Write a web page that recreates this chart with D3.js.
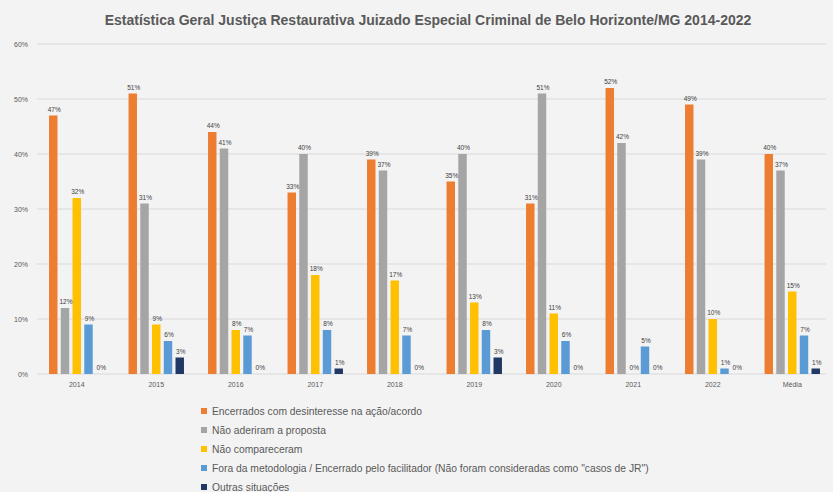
<!DOCTYPE html>
<html>
<head>
<meta charset="utf-8">
<script src="https://cdn.jsdelivr.net/npm/d3@7"></script>
<style>
  body { margin: 0; background: #f3f3f3; }
  svg { display: block; font-family: "Liberation Sans", Arial, sans-serif; }
</style>
</head>
<body>
<div id="chart"></div>
<script>
// chart data
var categories = ["2014", "2015", "2016", "2017", "2018", "2019", "2020", "2021", "2022", "Média"];
var seriesNames = [
  "Encerrados com desinteresse na ação/acordo",
  "Não aderiram a proposta",
  "Não compareceram",
  "Fora da metodologia / Encerrado pelo facilitador (Não foram consideradas como \"casos de JR\")",
  "Outras situações"
];
var encerrados   = [47, 51, 44, 33, 39, 35, 31, 52, 49, 40];
var naoAderiram  = [12, 31, 41, 40, 37, 40, 51, 42, 39, 37];
var naoCompar    = [32, 9, 8, 18, 17, 13, 11, 0, 10, 15];
var foraMetod    = [9, 6, 7, 8, 7, 8, 6, 5, 1, 7];
var outras       = [0, 3, 0, 1, 0, 3, 0, 0, 0, 1];
var yTicks = [0, 10, 20, 30, 40, 50, 60];
var colors = ["#ed7d31", "#a5a5a5", "#ffc000", "#5b9bd5", "#1f3864"];
var title = "Estatística Geral Justiça Restaurativa Juizado Especial Criminal de Belo Horizonte/MG 2014-2022";

var allSeries = [encerrados, naoAderiram, naoCompar, foraMetod, outras];

var svgWidth = 833;
var svgHeight = 492;

var svg = d3.select("#chart")
  .append("svg")
  .attr("width", svgWidth)
  .attr("height", svgHeight);

svg.append("rect")
  .attr("width", svgWidth)
  .attr("height", svgHeight)
  .attr("fill", "#f3f3f3");

// scales
var x0 = d3.scaleBand()
  .domain(categories)
  .range([37, 832])
  .paddingInner(0.22)
  .paddingOuter(0.11);

var x1 = d3.scaleBand()
  .domain(d3.range(seriesNames.length))
  .range([0, x0.bandwidth()])
  .padding(0.28);

var y = d3.scaleLinear()
  .domain([0, 60])
  .range([374, 44]);

// gridlines
svg.append("g")
  .selectAll("line")
  .data(yTicks)
  .enter()
  .append("line")
  .attr("x1", 37)
  .attr("x2", 826)
  .attr("y1", d => y(d))
  .attr("y2", d => y(d))
  .attr("stroke", "#d9d9d9")
  .attr("stroke-width", 1);

// y axis labels
var leftAxis = d3.axisLeft(y).tickValues(yTicks).tickFormat(d => d + "%").tickSize(0).tickPadding(9);
var yAxisG = svg.append("g")
  .attr("transform", "translate(37,0)")
  .call(leftAxis);
yAxisG.select(".domain").remove();
yAxisG.selectAll("text")
  .attr("font-size", 7)
  .attr("fill", "#595959")
  .attr("font-family", "Liberation Sans, Arial, sans-serif");

// x axis labels
var bottomAxis = d3.axisBottom(x0).tickSize(0).tickPadding(8);
var xAxisG = svg.append("g")
  .attr("transform", "translate(0,374)")
  .call(bottomAxis);
xAxisG.select(".domain").remove();
xAxisG.selectAll("text")
  .attr("font-size", 7)
  .attr("fill", "#595959")
  .attr("font-family", "Liberation Sans, Arial, sans-serif");

// bars
var groups = svg.append("g")
  .selectAll("g")
  .data(categories)
  .enter()
  .append("g")
  .attr("transform", d => "translate(" + x0(d) + ",0)");

groups.selectAll("rect")
  .data((c, i) => allSeries.map((s, k) => ({ k: k, v: s[i] })))
  .enter()
  .append("rect")
  .attr("x", d => x1(d.k))
  .attr("y", d => y(d.v))
  .attr("width", x1.bandwidth())
  .attr("height", d => y(0) - y(d.v))
  .attr("fill", d => colors[d.k]);

groups.selectAll("text")
  .data((c, i) => allSeries.map((s, k) => ({ k: k, v: s[i] })))
  .enter()
  .append("text")
  .attr("x", d => x1(d.k) + x1.bandwidth() / 2 + 1)
  .attr("y", d => y(d.v) - 4)
  .attr("text-anchor", "middle")
  .attr("font-size", 6.5)
  .attr("fill", "#404040")
  .text(d => d.v + "%");

// title
svg.append("text")
  .attr("x", 428)
  .attr("y", 25)
  .attr("text-anchor", "middle")
  .attr("font-size", 14)
  .attr("font-weight", "bold")
  .attr("fill", "#595959")
  .text(title);

// legend
var legend = svg.append("g")
  .selectAll("g")
  .data(seriesNames)
  .enter()
  .append("g")
  .attr("transform", (d, i) => "translate(201," + (411 + i * 19) + ")");

legend.append("rect")
  .attr("x", 0)
  .attr("y", -3)
  .attr("width", 6)
  .attr("height", 6)
  .attr("fill", (d, i) => colors[i]);

legend.append("text")
  .attr("x", 11)
  .attr("y", 3.5)
  .attr("font-size", 10.3)
  .attr("fill", "#595959")
  .text(d => d);
</script>
</body>
</html>
